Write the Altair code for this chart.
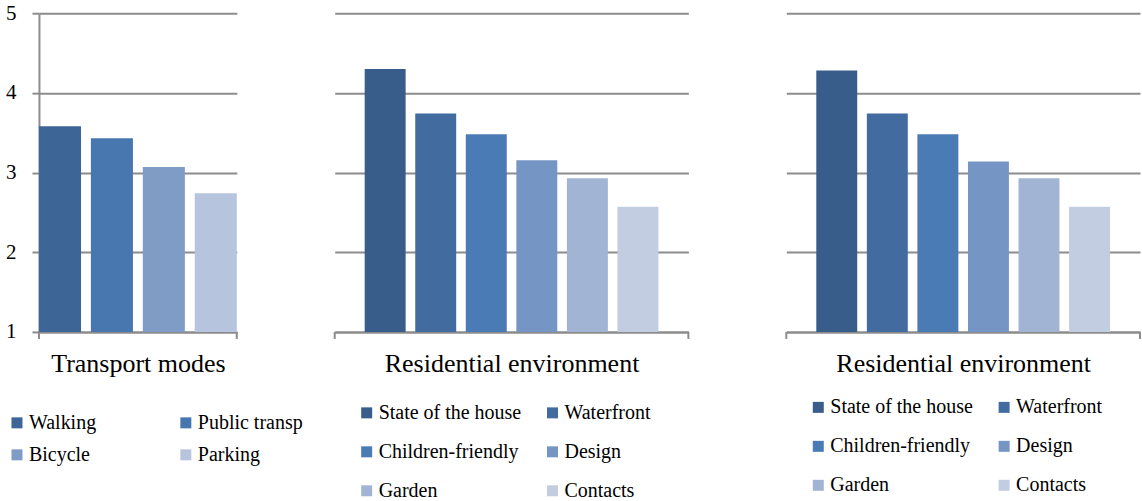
import altair as alt
import pandas as pd

# ---- data ----
transport_items = ["Walking", "Public transp", "Bicycle", "Parking"]
transport_values = [3.58, 3.43, 3.07, 2.74]
transport_colors = ["#3D6595", "#4877AF", "#7F9CC6", "#B6C4DE"]

resid_items = ["State of the house", "Waterfront", "Children-friendly",
               "Design", "Garden", "Contacts"]
resid_values_a = [4.30, 3.74, 3.48, 3.155, 2.93, 2.57]
resid_values_b = [4.28, 3.74, 3.48, 3.14, 2.93, 2.57]
resid_colors = ["#385D8A", "#426C9F", "#4A7BB4", "#7596C4", "#A1B4D4", "#C2CDE2"]

y_ticks = [1, 2, 3, 4, 5]

FONT = "Liberation Serif"
GRID = "#8C8C8C"
H = 319


def panel(items, values, colors, title, width, show_y, pad_inner, pad_outer,
          legend_x, legend_y, col_pad, row_pad):
    df = pd.DataFrame({"item": items, "value": values})
    bars = alt.Chart(df).mark_bar().encode(
        x=alt.X("item:N", sort=items,
                scale=alt.Scale(paddingInner=pad_inner, paddingOuter=pad_outer),
                axis=alt.Axis(title=title, labels=False, ticks=False, domain=True,
                              domainColor=GRID, domainWidth=2,
                              titleFont=FONT, titleFontSize=26, titleFontWeight="normal",
                              titleColor="black", titleBaseline="alphabetic",
                              titlePadding=40)),
        y=alt.Y("value:Q", scale=alt.Scale(domain=[1, 5], zero=False, nice=False),
                axis=alt.Axis(values=y_ticks, grid=True, gridColor=GRID, gridWidth=2,
                              gridOpacity=1,
                              labels=show_y, ticks=show_y, domain=show_y,
                              tickSize=7, tickColor=GRID, tickWidth=2,
                              domainColor=GRID, domainWidth=2,
                              labelFont=FONT, labelFontSize=21, labelColor="black",
                              labelPadding=16, format="d", title=None)),
        y2=alt.datum(1),
        color=alt.Color("item:N", sort=items,
                        scale=alt.Scale(domain=items, range=colors),
                        legend=alt.Legend(title=None, orient="none",
                                          direction="horizontal",
                                          legendX=legend_x, legendY=legend_y,
                                          columns=2, columnPadding=col_pad,
                                          rowPadding=row_pad, padding=0,
                                          symbolType="square", symbolSize=121,
                                          symbolStrokeWidth=0, symbolOpacity=1,
                                          labelFont=FONT, labelFontSize=20,
                                          labelColor="black", labelOffset=2,
                                          labelLimit=400)),
    )
    one = pd.DataFrame({"k": [0]})
    left_tick = alt.Chart(one).mark_rule(color=GRID, strokeWidth=2).encode(
        x=alt.value(0), y=alt.value(H), y2=alt.value(H + 7))
    right_tick = alt.Chart(one).mark_rule(color=GRID, strokeWidth=2).encode(
        x=alt.value(width), y=alt.value(H), y2=alt.value(H + 7))
    return alt.layer(bars, left_tick, right_tick).properties(width=width, height=H)


p1 = panel(transport_items, transport_values, transport_colors, "Transport modes",
           198, True, 0.19, 0.0, -32, 400, 79, 12)
p2 = panel(resid_items, resid_values_a, resid_colors, "Residential environment",
           354, False, 0.19, 0.593, 22, 390, 21, 19)
p3 = panel(resid_items, resid_values_b, resid_colors, "Residential environment",
           354, False, 0.19, 0.593, 22, 384.5, 21, 19)

chart = alt.hconcat(p1, p2, p3, spacing=98, bounds="flush").resolve_scale(
    color="independent", x="independent"
).properties(
    padding={"left": 5, "top": 2, "right": 1, "bottom": 5},
    autosize=alt.AutoSizeParams(type="pad"),
).configure_view(stroke=None)

chart.save("out.html", embed_options={"renderer": "svg", "actions": False})
